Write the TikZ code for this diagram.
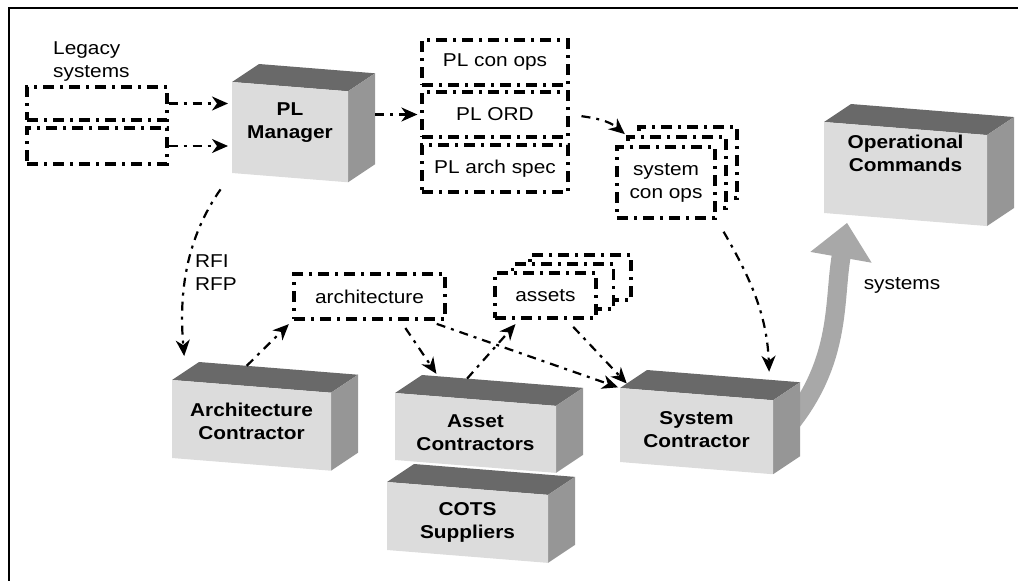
\documentclass[tikz,border=0pt]{standalone}
\usepackage{fontspec}
\setmainfont{Liberation Sans}[FakeStretch=1.12]
\usetikzlibrary{arrows.meta,calc,backgrounds}

\definecolor{facegray}{RGB}{220,220,220}
\definecolor{topgray}{RGB}{105,105,105}
\definecolor{sidegray}{RGB}{150,150,150}
\definecolor{arrowgray}{RGB}{168,168,168}

\tikzset{
  docbox/.style={draw, fill=white, line width=3.2pt, dash pattern=on 11pt off 6pt on 3pt off 6pt, inner sep=0pt, align=center},
  flow/.style={line width=2.2pt, dash pattern=on 9pt off 6pt on 3pt off 6pt, -{Stealth[length=16pt,width=14pt,inset=5pt]}},
  boxtext/.style={font=\fontsize{18.6}{23}\selectfont\bfseries, align=center, inner sep=0pt},
  plain/.style={align=left, inner sep=0pt},
}

% cube: name, x, y (front top left), width, height, text shift, text
\newcommand{\plbox}[7]{%
  \path (#2,#3) coordinate (#1-tl) ++(#4,-0.08*#4) coordinate (#1-tr) ++(0,-#5) coordinate (#1-br) ++(-#4,0.08*#4) coordinate (#1-bl);
  \path (#1-tl) ++(\dx,\dy) coordinate (#1-bk) (#1-tr) ++(\dx,\dy) coordinate (#1-bkr) (#1-br) ++(\dx,\dy) coordinate (#1-rb);
  \fill[topgray] (#1-tl) -- (#1-bk) -- (#1-bkr) -- (#1-tr) -- cycle;
  \fill[sidegray] (#1-tr) -- (#1-bkr) -- (#1-rb) -- (#1-br) -- cycle;
  \fill[facegray] (#1-tl) -- (#1-tr) -- (#1-br) -- (#1-bl) -- cycle;
  \node[boxtext, yshift=#6] (#1) at ($(#1-tl)!0.5!(#1-br)$) {#7};
}

\begin{document}
\begin{tikzpicture}[x=1pt, y=1pt, font=\fontsize{18.6}{23}\selectfont]
\def\dx{27}
\def\dy{18}
\useasboundingbox (0,0) rectangle (1018,-581);

% frame
\draw[line width=2pt] (9,-581) -- (9,-8) -- (1018,-8);

% legacy systems
\node[plain, anchor=west] (legacy) at (53,-62) {Legacy\\systems};
\node[docbox, minimum width=140pt, minimum height=33pt] (leg1) at (97,-103.5) {};
\node[docbox, minimum width=140pt, minimum height=36pt] (leg2) at (97,-146) {};

% documents
\node[docbox, minimum width=146pt, minimum height=45pt] (conops) at (495,-62.5) {PL con ops};
\node[docbox, minimum width=146pt, minimum height=45pt] (ord) at (495,-114.5) {PL ORD};
\node[docbox, minimum width=146pt, minimum height=47pt] (archspec) at (495,-168.5) {PL arch spec};

\node[docbox, minimum width=98pt, minimum height=71pt] (sc3) at (688,-162.5) {};
\node[docbox, minimum width=98pt, minimum height=71pt] (sc2) at (677,-172.5) {};
\node[docbox, minimum width=98pt, minimum height=71pt] (sc1) at (666,-182.5) {system\\con ops};

\node[docbox, minimum width=151pt, minimum height=45pt] (archdoc) at (369.5,-296.5) {architecture};

\node[docbox, minimum width=101pt, minimum height=45pt] (as3) at (580.5,-277.5) {};
\node[docbox, minimum width=101pt, minimum height=45pt] (as2) at (563,-286.5) {};
\node[docbox, minimum width=101pt, minimum height=45pt] (as1) at (545.5,-295.5) {assets};

% boxes
\plbox{pm}{232}{-82}{116}{91}{10pt}{PL\\Manager}
\plbox{ops}{824}{-122}{163}{91}{21pt}{Operational\\Commands}
\plbox{arch}{172}{-380}{159}{78}{4pt}{Architecture\\Contractor}
\plbox{cots}{387}{-482}{161}{68}{0pt}{COTS\\Suppliers}
\plbox{asset}{395}{-393}{161}{67}{0pt}{Asset\\Contractors}
\plbox{sys}{620}{-388}{153}{74}{2pt}{System\\Contractor}

% big arrow behind the system contractor
\begin{scope}[on background layer]
\draw[arrowgray, line width=19pt, -{Triangle[length=35pt,width=60pt]}, shorten >=8pt]
  ($(sys-br)!0.5!(sys-bkr)$) to[out=50, in=-100] ($(ops-bl)!0.15!(ops-br)$);
\end{scope}

\node[plain] (syslbl) at (902,-285) {systems};
\node[plain, anchor=west] (rfi) at (195,-273) {RFI\\RFP};

% flows
\draw[flow, shorten >=4pt] (leg1.east) -- (leg1.east -| pm-tl);
\draw[flow, shorten >=4pt] (leg2.east) -- (leg2.east -| pm-tl);
\draw[flow, shorten >=3pt] (ord.west -| pm-bkr) -- (ord.west);
\draw[flow, shorten <=12pt, shorten >=2pt] (ord.east) to[out=-8, in=140] (sc2.north west);
\draw[flow, shorten <=14pt, shorten >=8pt] (sc1.south east) to[out=-60, in=92] ($(sys-bk)!0.8!(sys-bkr)$);
\draw[flow, shorten <=20pt, shorten >=15pt] (pm-bl) to[out=235, in=95] ($(arch-tl)!0.5!(arch-bk)$);
\draw[flow, shorten >=5pt] ($(arch-bk)!0.3!(arch-bkr)$) -- (archdoc.south west);
\draw[flow, shorten <=9pt, shorten >=3pt] ($(archdoc.south)!0.4!(archdoc.south east)$) -- ($(asset-bk)!0.1!(asset-bkr)$);
\draw[flow, shorten <=10pt, shorten >=2pt] ($(archdoc.south)!0.75!(archdoc.south east)$) -- (sys-tl);
\draw[flow, shorten >=6pt] ($(asset-bk)!0.28!(asset-bkr)$) -- ($(as1.south west)!0.25!(as1.south east)$);
\draw[flow, shorten <=10pt] ($(as1.south)!0.4!(as1.south east)$) -- ($(sys-tl)!0.25!(sys-bk)$);

\end{tikzpicture}
\end{document}
